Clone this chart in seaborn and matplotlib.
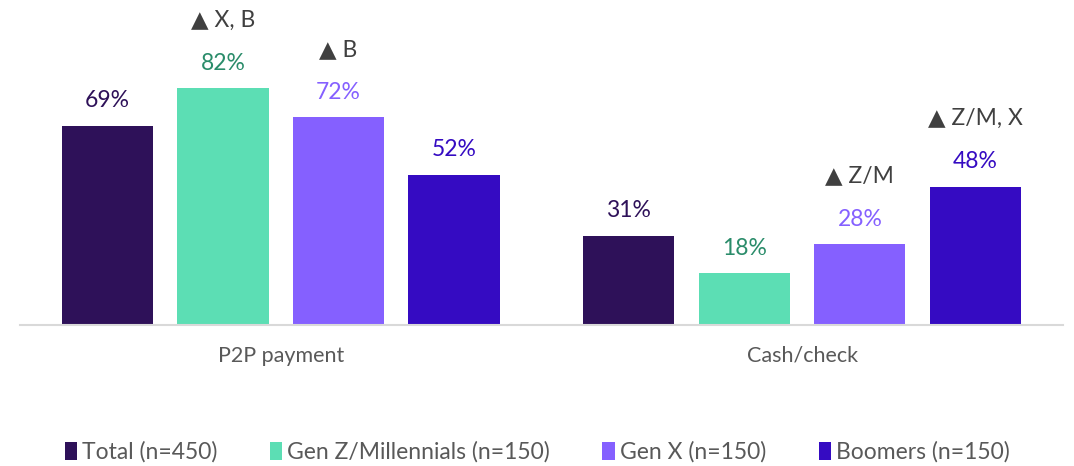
import pandas as pd
import numpy as np
import matplotlib
matplotlib.use('Agg')
import matplotlib.pyplot as plt
import seaborn as sns

# Chart data
categories = ['P2P payment', 'Cash/check']
groups = ['Total (n=450)', 'Gen Z/Millennials (n=150)', 'Gen X (n=150)', 'Boomers (n=150)']
values = {
    'Total (n=450)': [69, 31],
    'Gen Z/Millennials (n=150)': [82, 18],
    'Gen X (n=150)': [72, 28],
    'Boomers (n=150)': [52, 48],
}
sig_notes = {
    'Total (n=450)': ['', ''],
    'Gen Z/Millennials (n=150)': ['▲ X, B', ''],
    'Gen X (n=150)': ['▲ B', '▲ Z/M'],
    'Boomers (n=150)': ['', '▲ Z/M, X'],
}

bar_colors = ['#2E1159', '#5CDEB4', '#8560FF', '#350BC2']
text_colors = ['#2E1159', '#2A8C6A', '#8560FF', '#350BC2']

rows = []
for g in groups:
    for c, v in zip(categories, values[g]):
        rows.append({'category': c, 'group': g, 'value': v})
df = pd.DataFrame(rows)

sns.set_theme(style='white')
plt.rcParams['font.family'] = ['Lato', 'DejaVu Sans']

fig = plt.figure(figsize=(10.74, 4.66), dpi=100)
ax = fig.add_axes([0.0186, 0.3026, 0.971, 0.619])

sns.barplot(data=df, x='category', y='value', hue='group', order=categories,
            hue_order=groups, palette=bar_colors, width=0.886, gap=0.21,
            linewidth=0, saturation=1, legend=True, ax=ax)

ax.set_xlim(-0.5, 1.5)
ax.set_ylim(0, 100)

# value labels and significance notes
for i, (cont, g) in enumerate(zip(ax.containers, groups)):
    for j, bar in enumerate(cont):
        x = bar.get_x() + bar.get_width() / 2
        h = bar.get_height()
        ax.annotate(f'{values[g][j]}%', (x, h), xytext=(0, 18), textcoords='offset points',
                    ha='center', va='center', fontsize=16.5, color=text_colors[i],
                    annotation_clip=False)
        note = sig_notes[g][j]
        if note:
            ax.annotate(note, (x, h), xytext=(0, 49), textcoords='offset points',
                        ha='center', va='center', fontsize=16.5, color='#404040',
                        annotation_clip=False)

for s in ['top', 'right', 'left']:
    ax.spines[s].set_visible(False)
ax.spines['bottom'].set_color('#D9D9D9')
ax.spines['bottom'].set_linewidth(1.5)
ax.set_yticks([])
ax.set_xlabel('')
ax.set_ylabel('')
ax.tick_params(axis='x', length=0, pad=15, labelsize=15.5, labelcolor='#595959')

handles, labels = ax.get_legend_handles_labels()
ax.legend(handles, labels, loc='center', bbox_to_anchor=(0.5, 0.03),
          bbox_transform=fig.transFigure, ncol=4, frameon=False,
          fontsize=16.5, handlelength=0.55, handleheight=0.8, handletextpad=0.2,
          columnspacing=2.3, labelcolor='#595959')

fig.savefig('out.png', dpi=100)
